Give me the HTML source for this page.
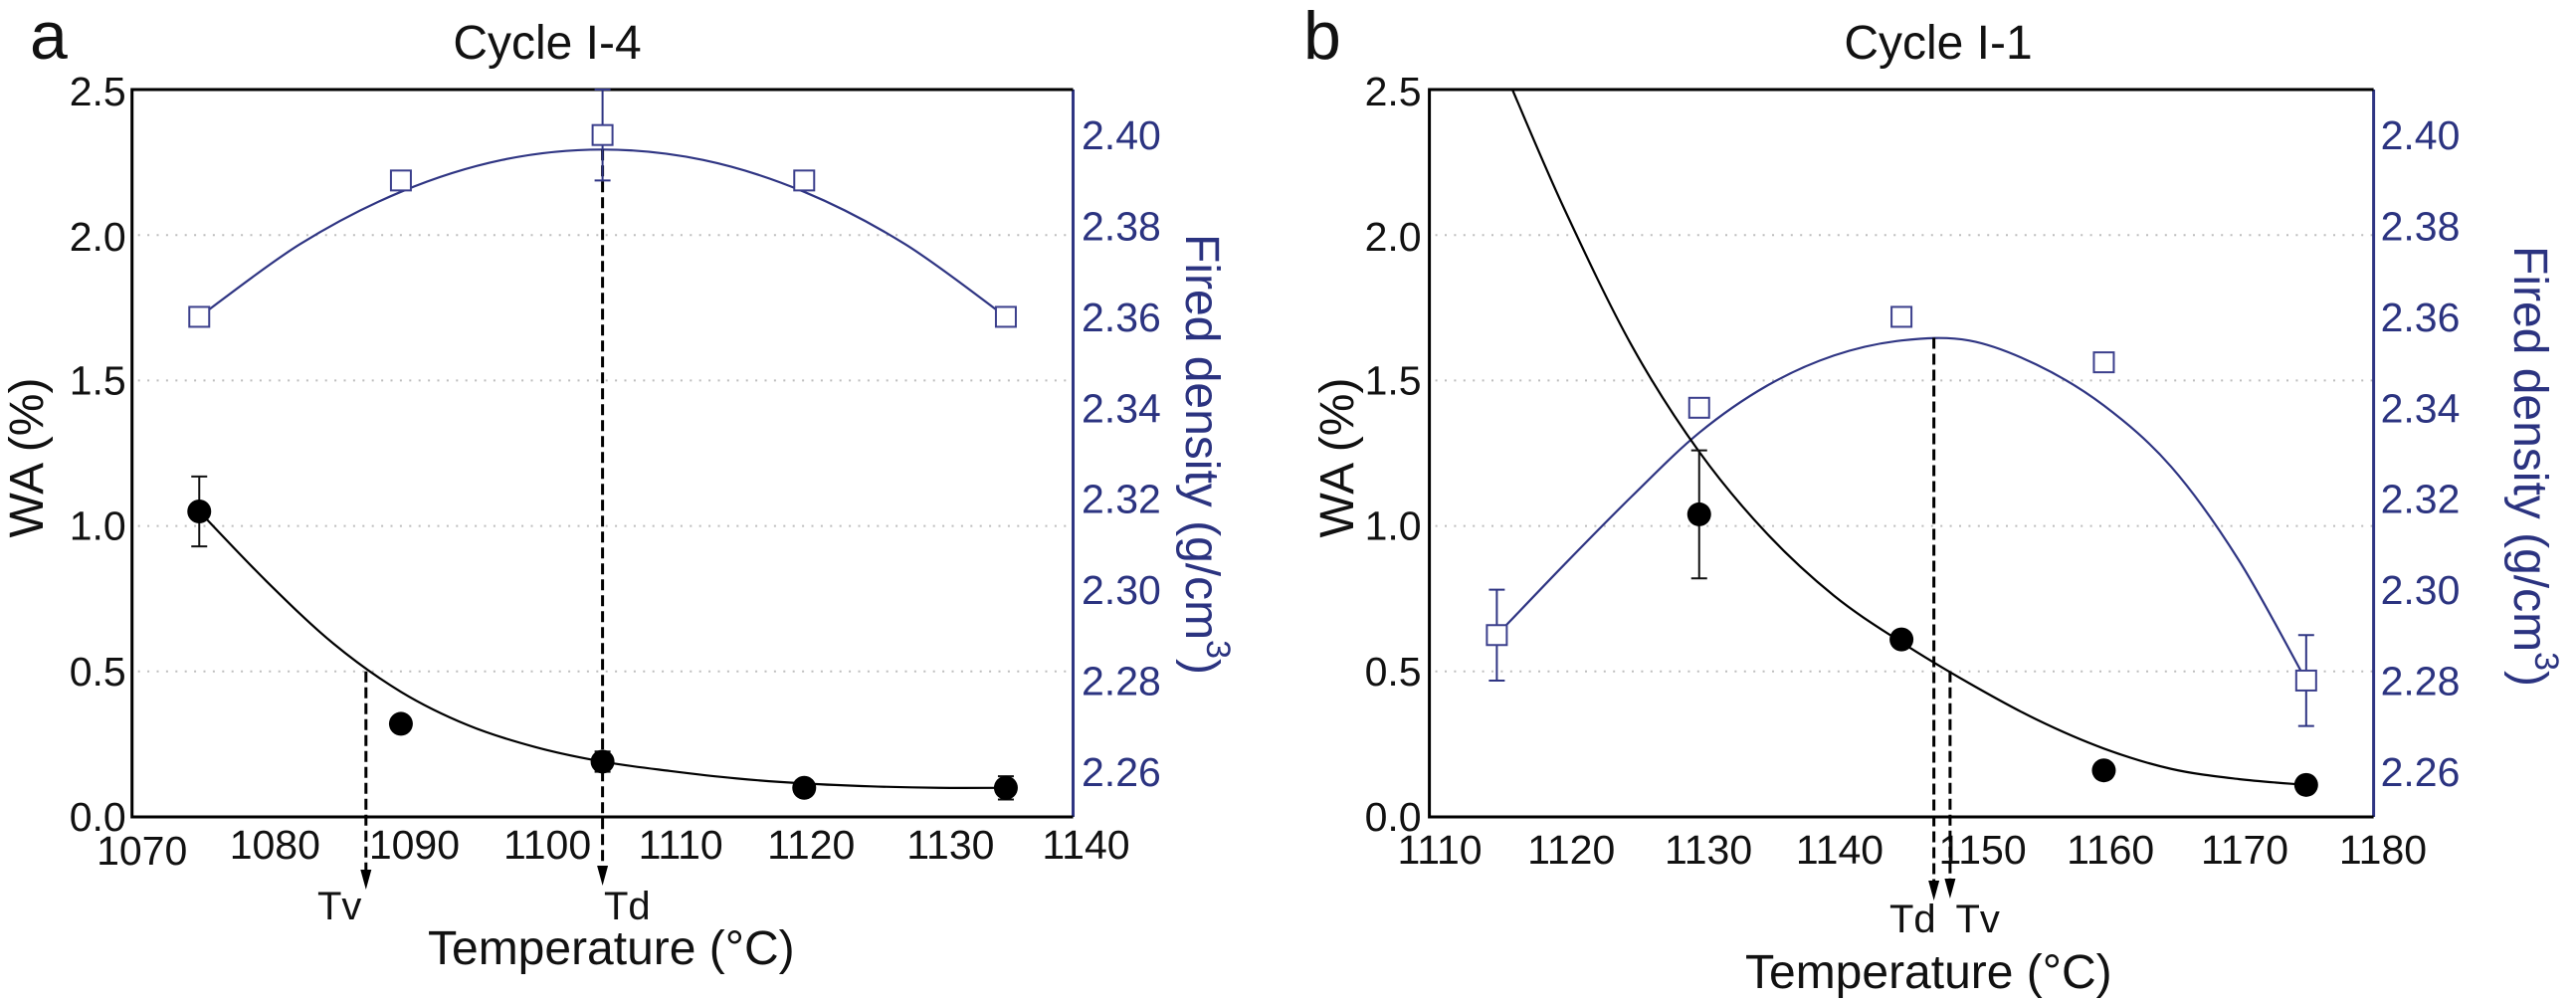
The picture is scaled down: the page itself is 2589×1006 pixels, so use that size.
<!DOCTYPE html>
<html lang="en">
<head>
<meta charset="utf-8">
<title>WA and fired density versus temperature</title>
<style>
  html, body { margin: 0; padding: 0; background: #fff; }
  svg { display: block; font-family: "Liberation Sans", sans-serif; }
</style>
</head>
<body>
<svg id="figure" xmlns="http://www.w3.org/2000/svg" width="2589" height="1006" viewBox="0 0 2589 1006">
  <rect x="0" y="0" width="2589" height="1006" fill="#ffffff"/>
  <text x="30" y="59" font-size="68" fill="#111">a</text>
  <text x="1310" y="59" font-size="68" fill="#111">b</text>
  <text x="550" y="59" font-size="48" text-anchor="middle" fill="#111">Cycle I-4</text>
  <text x="1948" y="59" font-size="48" text-anchor="middle" fill="#111">Cycle I-1</text>
  <text x="430" y="969" font-size="48" fill="#111">Temperature (°C)</text>
  <text x="1754" y="993" font-size="48" fill="#111">Temperature (°C)</text>
  <text transform="translate(43 460) rotate(-90)" font-size="48" text-anchor="middle" fill="#111">WA (%)</text>
  <text transform="translate(1360 460) rotate(-90)" font-size="48" text-anchor="middle" fill="#111">WA (%)</text>
  <text transform="translate(1192 235) rotate(90)" font-size="48" fill="#2b3380">Fired density (g/cm<tspan font-size="34" dy="-21">3</tspan><tspan dy="21">)</tspan></text>
  <text transform="translate(2527 247) rotate(90)" font-size="48" fill="#2b3380">Fired density (g/cm<tspan font-size="34" dy="-21">3</tspan><tspan dy="21">)</tspan></text>
  <g id="panel-a"></g>
  <g id="panel-b"></g>
</svg>
<script>
// Shared tick labels
const waTicks = [0, 0.5, 1, 1.5, 2, 2.5];
const densityTicks = [2.26, 2.28, 2.30, 2.32, 2.34, 2.36, 2.38, 2.40];

// Panel a values
const panelAXTicks = [1070, 1080, 1090, 1100, 1110, 1120, 1130, 1140];
const panelAWaTemps = [1075, 1090, 1105, 1120, 1135];
const panelAWa = [1.05, 0.32, 0.19, 0.10, 0.10];
const panelAWaErr = [0.12, 0, 0.035, 0, 0.04];
const panelADensityTemps = [1075, 1090, 1105, 1120, 1135];
const panelADensity = [2.36, 2.39, 2.40, 2.39, 2.36];
const panelADensityErr = [0, 0, 0.01, 0, 0];
const panelAWaCurveTemps = [1075, 1080, 1085, 1090, 1095, 1100, 1105, 1110, 1115, 1120, 1125, 1130, 1135];
const panelAWaCurve = [1.05, 0.81, 0.595, 0.43, 0.315, 0.24, 0.19, 0.158, 0.132, 0.115, 0.105, 0.10, 0.10];
const panelADensityCurveTemps = [1075, 1082.5, 1090, 1097.5, 1105, 1112.5, 1120, 1127.5, 1135];
const panelADensityCurve = [2.36, 2.376, 2.3875, 2.3945, 2.3968, 2.3945, 2.3875, 2.376, 2.36];
const panelAVitrification = { temp: 1087.4, wa: 0.5 };
const panelADensification = { temp: 1105, density: 2.3968 };

// Panel b values
const panelBXTicks = [1110, 1120, 1130, 1140, 1150, 1160, 1170, 1180];
const panelBWaTemps = [1130, 1145, 1160, 1175];
const panelBWa = [1.04, 0.61, 0.16, 0.11];
const panelBWaErr = [0.22, 0, 0, 0];
const panelBDensityTemps = [1115, 1130, 1145, 1160, 1175];
const panelBDensity = [2.29, 2.34, 2.36, 2.35, 2.28];
const panelBDensityErr = [0.01, 0, 0, 0, 0.01];
const panelBWaCurveTemps = [1116.15, 1120, 1125, 1130, 1135, 1140, 1145, 1150, 1155, 1160, 1165, 1170, 1175];
const panelBWaCurve = [2.5, 2.09, 1.62, 1.255, 0.975, 0.76, 0.60, 0.46, 0.335, 0.235, 0.165, 0.13, 0.11];
const panelBDensityCurveTemps = [1115, 1120, 1125, 1130, 1135, 1140, 1145, 1150, 1155, 1160, 1165, 1170, 1175];
const panelBDensityCurve = [2.29, 2.3055, 2.3205, 2.3345, 2.3448, 2.3515, 2.3548, 2.3548, 2.3495, 2.3405, 2.327, 2.3065, 2.28];
const panelBVitrification = { temp: 1148.6, wa: 0.5 };
const panelBDensification = { temp: 1147.4, density: 2.3554 };

const NS = 'http://www.w3.org/2000/svg';
const INK = '#111111';
const NAVY = '#2f3583';
const TEXT_NAVY = '#2b3380';

function make(parent, tag, attrs, text) {
  const el = document.createElementNS(NS, tag);
  for (const k in attrs) el.setAttribute(k, attrs[k]);
  if (text !== undefined) el.textContent = text;
  parent.appendChild(el);
  return el;
}

function smoothPath(xs, ys) {
  let d = 'M' + xs[0].toFixed(2) + ' ' + ys[0].toFixed(2);
  for (let i = 0; i < xs.length - 1; i++) {
    const p = Math.max(i - 1, 0), n = Math.min(i + 2, xs.length - 1);
    const c1x = xs[i] + (xs[i + 1] - xs[p]) / 6;
    const c1y = ys[i] + (ys[i + 1] - ys[p]) / 6;
    const c2x = xs[i + 1] - (xs[n] - xs[i]) / 6;
    const c2y = ys[i + 1] - (ys[n] - ys[i]) / 6;
    d += 'C' + c1x.toFixed(2) + ' ' + c1y.toFixed(2) + ' ' + c2x.toFixed(2) + ' ' + c2y.toFixed(2) + ' ' + xs[i + 1].toFixed(2) + ' ' + ys[i + 1].toFixed(2);
  }
  return d;
}

function drawErrorBar(g, x, yLow, yHigh, color) {
  const bar = make(g, 'path', {
    d: 'M' + x + ' ' + yLow + 'V' + yHigh + 'M' + (x - 8) + ' ' + yLow + 'H' + (x + 8) + 'M' + (x - 8) + ' ' + yHigh + 'H' + (x + 8),
    fill: 'none', stroke: color, 'stroke-width': 2
  });
  
  
}

function drawMarkerLine(g, x, yStart, yEnd, tipY, name) {
  const line = make(g, 'line', {
    x1: x, x2: x, y1: yStart, y2: yEnd,
    stroke: '#000', 'stroke-width': 3, 'stroke-dasharray': '11 5'
  });
  
  
  const head = make(g, 'polygon', {
    points: (x - 5.5) + ',' + yEnd + ' ' + (x + 5.5) + ',' + yEnd + ' ' + x + ',' + tipY,
    fill: '#000'
  });
  
  
}

function drawPanel(g, cfg) {
  const yTop = 90, yBottom = 821;
  const xScale = t => cfg.xLeft + (t - cfg.xTicks[0]) / (cfg.xTicks[cfg.xTicks.length - 1] - cfg.xTicks[0]) * (cfg.xRight - cfg.xLeft);
  const yWa = v => yBottom - (v - 0) / (2.5 - 0) * (yBottom - yTop);
  const yDensity = v => yBottom - (v - 2.25) / (2.41 - 2.25) * (yBottom - yTop);

  // Gridlines
  waTicks.forEach(v => {
    if (v === 0 || v === 2.5) return;
    const grid = make(g, 'line', {
      x1: cfg.xLeft + 6, x2: cfg.xRight, y1: yWa(v), y2: yWa(v),
      stroke: '#bdbdbd', 'stroke-width': 2, 'stroke-dasharray': '2 7.4'
    });
    
    
  });

  // Axes
  const rightAxis = make(g, 'line', { x1: cfg.xRight, x2: cfg.xRight, y1: yTop, y2: yBottom, stroke: NAVY, 'stroke-width': 3 });
  
  
  const frame = make(g, 'path', {
    d: 'M' + cfg.xRight + ' ' + yTop + 'H' + cfg.xLeft + 'V' + yBottom + 'H' + cfg.xRight,
    fill: 'none', stroke: '#000', 'stroke-width': 3
  });
  
  

  // Tick labels
  waTicks.forEach(v => {
    const label = make(g, 'text', {
      x: cfg.xLeft - cfg.leftLabelGap, y: yWa(v) + (v >= 2 ? 16 : 14),
      'font-size': 41, 'text-anchor': 'end', fill: INK
    }, v.toFixed(1));
    
    
  });
  densityTicks.forEach(v => {
    const label = make(g, 'text', {
      x: cfg.xRight + cfg.rightLabelGap, y: yDensity(v) + 14.5,
      'font-size': 41, fill: TEXT_NAVY
    }, v.toFixed(2));
    
    
  });
  cfg.xTicks.forEach((t, i) => {
    const label = make(g, 'text', {
      x: xScale(t) + cfg.xLabelNudge[i], y: cfg.xLabelBaseline[i],
      'font-size': 41, 'text-anchor': 'middle', fill: INK
    }, String(t));
    
    
  });

  // Fitted curves
  const densityCurve = make(g, 'path', {
    d: smoothPath(cfg.densityCurveTemps.map(xScale), cfg.densityCurve.map(yDensity)),
    fill: 'none', stroke: NAVY, 'stroke-width': 2.2
  });
  
  
  const waCurve = make(g, 'path', {
    d: smoothPath(cfg.waCurveTemps.map(xScale), cfg.waCurve.map(yWa)),
    fill: 'none', stroke: '#000', 'stroke-width': 2.2
  });
  
  

  // Td / Tv markers
  drawMarkerLine(g, xScale(cfg.vitrification.temp), yWa(cfg.vitrification.wa), cfg.tvArrowTop, cfg.tvArrowTop + 20, 'tv');
  drawMarkerLine(g, xScale(cfg.densification.temp), yDensity(cfg.densification.density), cfg.tdArrowTop, cfg.tdArrowTop + 20, 'td');
  const tvLabel = make(g, 'text', { x: cfg.tvLabelX, y: cfg.markerLabelY, 'font-size': 40, fill: INK }, 'Tv');
  
  
  const tdLabel = make(g, 'text', { x: cfg.tdLabelX, y: cfg.markerLabelY, 'font-size': 40, fill: INK }, 'Td');
  
  

  // Error bars then markers
  cfg.densityTemps.forEach((t, i) => {
    if (cfg.densityErr[i] > 0) {
      drawErrorBar(g, xScale(t), yDensity(cfg.density[i] - cfg.densityErr[i]), yDensity(cfg.density[i] + cfg.densityErr[i]), NAVY);
    }
  });
  cfg.waTemps.forEach((t, i) => {
    if (cfg.waErr[i] > 0) {
      drawErrorBar(g, xScale(t), yWa(cfg.wa[i] - cfg.waErr[i]), yWa(cfg.wa[i] + cfg.waErr[i]), INK);
    }
  });
  cfg.densityTemps.forEach((t, i) => {
    const square = make(g, 'rect', {
      x: xScale(t) - 10, y: yDensity(cfg.density[i]) - 10, width: 20, height: 20,
      fill: '#fff', stroke: '#3b3f8c', 'stroke-width': 2
    });
    
    
  });
  cfg.waTemps.forEach((t, i) => {
    const dot = make(g, 'circle', { cx: xScale(t), cy: yWa(cfg.wa[i]), r: 12, fill: '#000' });
    
    
  });
}

drawPanel(document.getElementById('panel-a'), {
  xLeft: 132.7, xRight: 1078.5, xTicks: panelAXTicks,
  xLabelNudge: [10, 8.5, 13.5, 12, 11, 7, 12, 13],
  xLabelBaseline: [869, 863, 863, 863, 863, 863, 863, 863],
  leftLabelGap: 6, rightLabelGap: 8.5,
  waTemps: panelAWaTemps, wa: panelAWa, waErr: panelAWaErr,
  densityTemps: panelADensityTemps, density: panelADensity, densityErr: panelADensityErr,
  waCurveTemps: panelAWaCurveTemps, waCurve: panelAWaCurve,
  densityCurveTemps: panelADensityCurveTemps, densityCurve: panelADensityCurve,
  vitrification: panelAVitrification, densification: panelADensification,
  tvArrowTop: 874, tdArrowTop: 870, tvLabelX: 319, tdLabelX: 607, markerLabelY: 924
});

drawPanel(document.getElementById('panel-b'), {
  xLeft: 1436.6, xRight: 2385.6, xTicks: panelBXTicks,
  xLabelNudge: [10.4, 7, 9.3, 5.7, 13.7, 6.7, 6, 9.4],
  xLabelBaseline: [868, 868, 868, 868, 868, 868, 868, 868],
  leftLabelGap: 8, rightLabelGap: 7,
  waTemps: panelBWaTemps, wa: panelBWa, waErr: panelBWaErr,
  densityTemps: panelBDensityTemps, density: panelBDensity, densityErr: panelBDensityErr,
  waCurveTemps: panelBWaCurveTemps, waCurve: panelBWaCurve,
  densityCurveTemps: panelBDensityCurveTemps, densityCurve: panelBDensityCurve,
  vitrification: panelBVitrification, densification: panelBDensification,
  tvArrowTop: 883, tdArrowTop: 885, tvLabelX: 1965.5, tdLabelX: 1899, markerLabelY: 937
});
</script>
</body>
</html>
